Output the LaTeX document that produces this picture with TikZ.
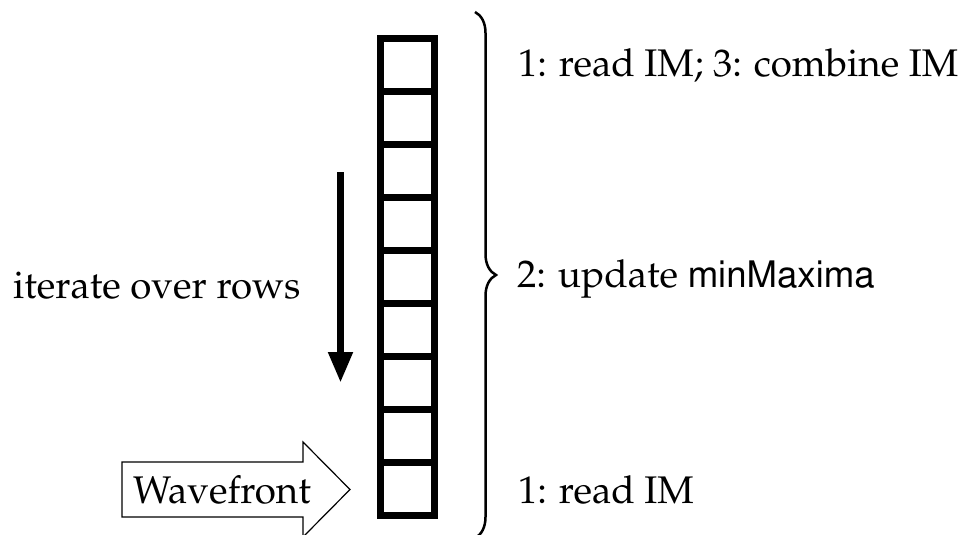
\documentclass[tikz,border=0pt]{standalone}
\usepackage[T1]{fontenc}
\usepackage{mathpazo}
\usepackage[scaled=0.95]{helvet}
\usetikzlibrary{decorations.pathreplacing,arrows.meta}
\begin{document}
\begin{tikzpicture}[x=1pt,y=-1pt,
  cell/.style={draw,line width=7pt,minimum width=54pt,minimum height=53pt,inner sep=0pt,outer sep=0pt},
  lbl/.style={anchor=base west,inner sep=0pt,font=\fontsize{38.5}{46}\selectfont},
  thinline/.style={line width=1.2pt}]
\useasboundingbox (0,0) rectangle (967,535);
% column of cells
\foreach \i in {0,...,8} {
  \node[cell] (c\i) at (407.5,{65+53*\i}) {};
}
% iterate arrow
\coordinate (itop) at (340.5,172);
\coordinate (ibot) at (340.5,383);
\draw[line width=7.5pt,-{Triangle[length=31pt,width=23pt]}] (itop) -- (ibot);
\node[lbl] (iter) at (13,298) {iterate over rows};
% wavefront arrow
\draw[thinline,fill=white] (122,462) -- (303,462) -- (303,442) -- (350,489.5) -- (303,537) -- (303,517) -- (122,517) -- cycle;
\node[lbl] (wave) at (133,503) {Wavefront};
% brace
\coordinate (btop) at (475,12);
\coordinate (bbot) at (475,538);
\draw[line width=2.5pt,decorate,decoration={brace,amplitude=21pt}] (btop) -- (bbot);
% labels
\node[lbl] (l1) at (518,77) {1: read IM; 3: combine IM};
\node[lbl] (l2) at (517,287) {2: update \textsf{minMaxima}};
\node[lbl] (l3) at (518,503) {1: read IM};
\end{tikzpicture}
\end{document}
